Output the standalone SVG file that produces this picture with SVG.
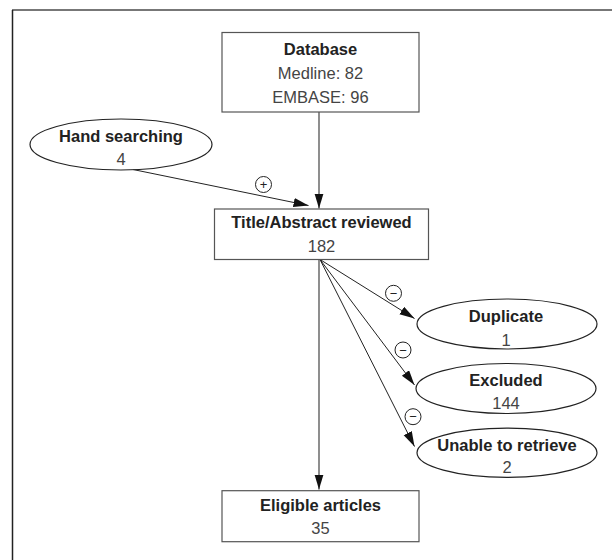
<svg xmlns="http://www.w3.org/2000/svg" width="612" height="560" viewBox="0 0 612 560">
<style>
.box{fill:#fff;stroke:#555;stroke-width:1.2}
.ell{fill:#fff;stroke:#222;stroke-width:1.2}
.b{font-family:"Liberation Sans",Arial,sans-serif;font-weight:bold;font-size:16.5px;fill:#222;text-anchor:middle}
.r{font-family:"Liberation Sans",Arial,sans-serif;font-size:16.5px;fill:#444;text-anchor:middle}
.conn{stroke:#222;stroke-width:1;fill:none}
.vconn{stroke:#444;stroke-width:1.2;fill:none}
.sign{fill:#fff;stroke:#222;stroke-width:1}
.st{font-family:"Liberation Sans",Arial,sans-serif;font-size:13px;fill:#222;text-anchor:middle}
</style>
<defs>
<marker id="ah" markerUnits="userSpaceOnUse" markerWidth="16" markerHeight="10" refX="15" refY="4.5" orient="auto">
<path d="M0,0 L15,4.5 L0,9 z" fill="#111"/>
</marker>
</defs>
<rect width="612" height="560" fill="#fff"/>
<g id="frame">
<line x1="12" y1="10" x2="612" y2="10" stroke="#777" stroke-width="1.8"/>
<line x1="12.5" y1="10" x2="12.5" y2="560" stroke="#222" stroke-width="1.5"/>
</g>
<g id="connectors">
<line class="vconn" x1="319" y1="112" x2="319" y2="208.5" marker-end="url(#ah)"/>
<line class="conn" x1="133" y1="169.5" x2="308.5" y2="205.5" marker-end="url(#ah)"/>
<line class="vconn" x1="319" y1="259.5" x2="319" y2="489.5" marker-end="url(#ah)"/>
<line class="conn" x1="320" y1="259.5" x2="414.5" y2="318.5" marker-end="url(#ah)"/>
<line class="conn" x1="320" y1="259.5" x2="414.5" y2="385" marker-end="url(#ah)"/>
<line class="conn" x1="320" y1="259.5" x2="414.5" y2="446.5" marker-end="url(#ah)"/>
<g id="signs">
<circle class="sign" cx="263.5" cy="184.5" r="8"/>
<text class="st" x="263.5" y="189">+</text>
<circle class="sign" cx="393.5" cy="293.3" r="8"/>
<text class="st" x="393.5" y="297.8">−</text>
<circle class="sign" cx="403" cy="350" r="8"/>
<text class="st" x="403" y="354.5">−</text>
<circle class="sign" cx="413" cy="416.7" r="8"/>
<text class="st" x="413" y="421.2">−</text>
</g>
</g>
<g id="database">
<rect class="box" x="222" y="32.5" width="197" height="79.5"/>
<text class="b" x="320.5" y="54.5">Database</text>
<text class="r" x="320.5" y="78.5">Medline: 82</text>
<text class="r" x="320.5" y="103">EMBASE: 96</text>
</g>
<g id="hand">
<ellipse class="ell" cx="121" cy="144.5" rx="91" ry="25.5"/>
<text class="b" x="121" y="141.7">Hand searching</text>
<text class="r" x="121" y="165">4</text>
</g>
<g id="title">
<rect class="box" x="214.5" y="209" width="214" height="50.5"/>
<text class="b" x="321.5" y="228.3">Title/Abstract reviewed</text>
<text class="r" x="321.5" y="252.3">182</text>
</g>
<g id="duplicate">
<ellipse class="ell" cx="507" cy="324" rx="90" ry="25"/>
<text class="b" x="506" y="321.7">Duplicate</text>
<text class="r" x="506" y="345.7">1</text>
</g>
<g id="excluded">
<ellipse class="ell" cx="506" cy="388.5" rx="90" ry="25"/>
<text class="b" x="506" y="386">Excluded</text>
<text class="r" x="506" y="409">144</text>
</g>
<g id="unable">
<ellipse class="ell" cx="507" cy="452.7" rx="90" ry="24.6"/>
<text class="b" x="507" y="450.7">Unable to retrieve</text>
<text class="r" x="507" y="473.3">2</text>
</g>
<g id="eligible">
<rect class="box" x="222" y="490.7" width="197" height="51"/>
<text class="b" x="320.5" y="511">Eligible articles</text>
<text class="r" x="320.5" y="534.3">35</text>
</g>
</svg>
